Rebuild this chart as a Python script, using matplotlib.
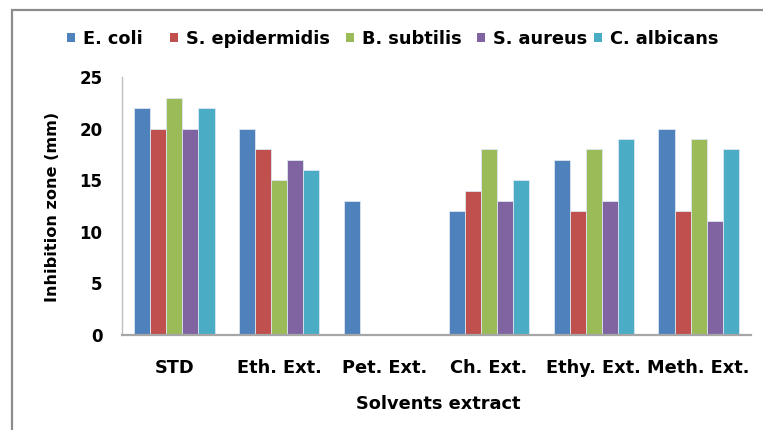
import matplotlib
matplotlib.use("Agg")
import matplotlib.pyplot as plt
import numpy as np
from matplotlib.patches import Rectangle, Patch

categories = ["STD", "Eth. Ext.", "Pet. Ext.", "Ch. Ext.", "Ethy. Ext.", "Meth. Ext."]
series_names = ["E. coli", "S. epidermidis", "B. subtilis", "S. aureus", "C. albicans"]
e_coli = [22, 20, 13, 12, 17, 20]
s_epidermidis = [20, 18, 0, 14, 12, 12]
b_subtilis = [23, 15, 0, 18, 18, 19]
s_aureus = [20, 17, 0, 13, 13, 11]
c_albicans = [22, 16, 0, 15, 19, 18]
colors = ["#4F81BD", "#C0504D", "#9BBB59", "#8064A2", "#4BACC6"]
yticks = [0, 5, 10, 15, 20, 25]

plt.rcParams['font.family'] = ['DejaVu Sans']
plt.rcParams['font.weight'] = 'bold'
FS = 12.8

W, H = 763, 430
fig = plt.figure(figsize=(W / 100, H / 100), dpi=100)
ax = fig.add_axes([122 / W, 1 - 335 / H, (751 - 122) / W, (335 - 77) / H])

data = [e_coli, s_epidermidis, b_subtilis, s_aureus, c_albicans]
x = np.arange(len(categories))
bw = 0.153
for i, (vals, c) in enumerate(zip(data, colors)):
    ax.bar(x + (i - 2) * bw, vals, width=bw, color=c, edgecolor="#dde6f0",
           linewidth=0.6, label=series_names[i])

ax.set_xlim(-0.5, len(categories) - 0.5)
ax.set_ylim(0, 25)
ax.set_yticks(yticks)
ax.set_xticks(x)
ax.set_xticklabels(categories, fontsize=FS)
ax.tick_params(axis='both', length=0)
ax.tick_params(axis='y', pad=14, labelsize=12)
ax.tick_params(axis='x', pad=17)
for s in ["top", "right"]:
    ax.spines[s].set_visible(False)
ax.spines["left"].set_color("#BFBFBF")
ax.spines["bottom"].set_color("#A6A6A6")
ax.spines["bottom"].set_linewidth(1.6)
ax.spines["left"].set_linewidth(1.0)

fig.text(53 / W, 1 - 207 / H, "Inhibition zone (mm)", rotation=90, ha='center', va='center',
         fontsize=11.6, fontweight='bold')
fig.text(438 / W, 1 - 404 / H, "Solvents extract", ha='center', va='center',
         fontsize=FS, fontweight='bold')

legend_x = [67, 170, 346, 477, 594]
hl = 5.76 / FS
for name, c, lx in zip(series_names, colors, legend_x):
    leg = fig.legend([Patch(facecolor=c, edgecolor='none')], [name], loc='center left',
                     bbox_to_anchor=(lx / W, 1 - 39 / H), frameon=False, fontsize=FS,
                     handlelength=hl, handleheight=hl, handletextpad=0.45,
                     borderpad=0, borderaxespad=0)

fig.patches.append(Rectangle((12 / W, 1 - 445 / H), 770 / W, (445 - 10) / H,
                             transform=fig.transFigure, fill=False, edgecolor="#8C8C8C",
                             linewidth=1.6, figure=fig))

fig.savefig("out.png", dpi=100)
